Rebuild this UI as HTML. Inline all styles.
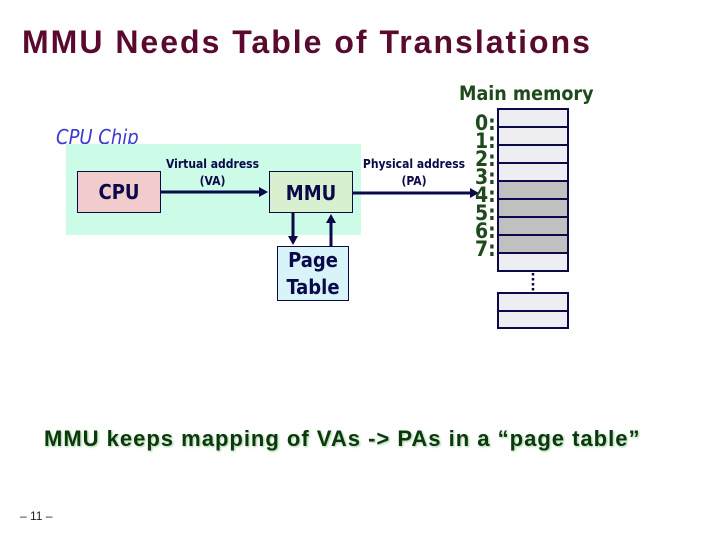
<!DOCTYPE html>
<html><head><style>
body{margin:0;width:720px;height:540px;background:#fff;position:relative;overflow:hidden;font-family:"Liberation Sans",sans-serif}
.a{position:absolute}
.c{font-family:"DejaVu Sans Condensed","Liberation Sans",sans-serif}
.d{position:absolute;left:475px;font:bold 21px "DejaVu Sans Condensed","Liberation Sans",sans-serif;color:#1e4a1e;line-height:18px}
</style></head><body>
<div class="a" style="left:22px;top:24px;font-size:32px;font-weight:bold;letter-spacing:2px;color:#5a0a2e">MMU Needs Table of Translations</div>
<div class="a c" style="left:459px;top:82px;font-size:19.5px;font-weight:bold;color:#1e4a1e">Main memory</div>
<div class="a c" style="left:56px;top:125px;font-size:20px;font-style:italic;color:#3a3ad0">CPU Chip</div>
<div class="a" style="left:66px;top:144px;width:295px;height:91px;background:#ccfce8"></div>
<div class="a c" style="left:77px;top:171px;width:82px;height:40px;background:#f2cccc;border:1px solid #0a0a4a;font-size:20px;font-weight:bold;text-align:center;line-height:40px;color:#0a0a4a">CPU</div>
<div class="a c" style="left:269px;top:171px;width:82px;height:40px;background:#d8f0d0;border:1px solid #0a0a4a;font-size:20px;font-weight:bold;text-align:center;line-height:42px;color:#0a0a4a">MMU</div>
<div class="a c" style="left:277px;top:246px;width:70px;height:53px;background:#d8f4f8;border:1px solid #0a0a4a;font-size:20px;font-weight:bold;text-align:center;line-height:27px;color:#0a0a4a">Page<br>Table</div>
<div class="a c" style="left:158px;top:156px;width:109px;text-align:center;font-size:12px;font-weight:bold;line-height:17px;color:#0a0a4a">Virtual address<br>(VA)</div>
<div class="a c" style="left:358px;top:156px;width:112px;text-align:center;font-size:12px;font-weight:bold;line-height:17px;color:#0a0a4a">Physical address<br>(PA)</div>
<svg class="a" style="left:0;top:0" width="720" height="540">
<g stroke="#0a0a4a" stroke-width="3" fill="#0a0a4a">
<line x1="161" y1="192" x2="262" y2="192"/><polygon points="268,192 259,187 259,197" stroke="none"/>
<line x1="353" y1="193" x2="472" y2="193"/><polygon points="479,193 470,188 470,198" stroke="none"/>
<line x1="293" y1="213" x2="293" y2="238"/><polygon points="293,245 288,236 298,236" stroke="none"/>
<line x1="331" y1="246" x2="331" y2="221"/><polygon points="331,214 326,223 336,223" stroke="none"/>
</g>
<g stroke="#0a0a4a" stroke-width="2">
<rect x="498" y="109" width="70" height="18" fill="#eeeef2"/>
<rect x="498" y="127" width="70" height="18" fill="#eeeef2"/>
<rect x="498" y="145" width="70" height="18" fill="#eeeef2"/>
<rect x="498" y="163" width="70" height="18" fill="#eeeef2"/>
<rect x="498" y="181" width="70" height="18" fill="#c0c0c0"/>
<rect x="498" y="199" width="70" height="18" fill="#c0c0c0"/>
<rect x="498" y="217" width="70" height="18" fill="#c0c0c0"/>
<rect x="498" y="235" width="70" height="18" fill="#c0c0c0"/>
<rect x="498" y="253" width="70" height="18" fill="#eeeef2"/>
<rect x="498" y="293" width="70" height="18" fill="#eeeef2"/>
<rect x="498" y="311" width="70" height="17" fill="#eeeef2"/>
</g>
<line x1="533" y1="273" x2="533" y2="291" stroke="#0a0a4a" stroke-width="2.5" stroke-dasharray="2.5,2.5"/>
</svg>
<div class="d" style="top:114px">0:<br>1:<br>2:<br>3:<br>4:<br>5:<br>6:<br>7:</div>
<div class="a" style="left:44px;top:426px;font-size:22px;font-weight:bold;letter-spacing:1px;color:#0a3a0a;text-shadow:1px 1px 2px #a0c8a0">MMU keeps mapping of VAs -&gt; PAs in a “page table”</div>
<div class="a" style="left:20px;top:509px;font-size:12px;color:#222">– 11 –</div>
</body></html>
